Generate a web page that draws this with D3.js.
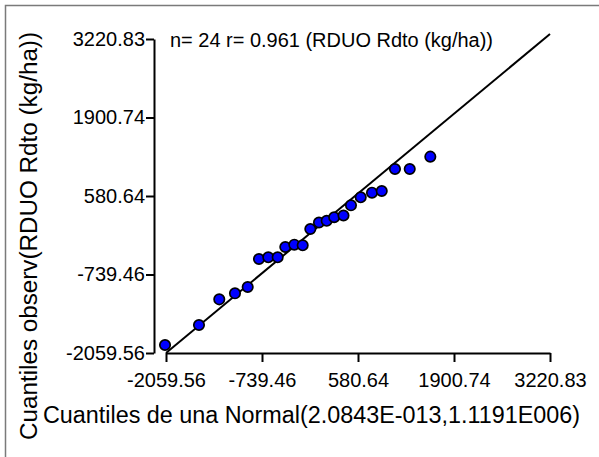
<!DOCTYPE html>
<html>
<head>
<meta charset="utf-8">
<script src="https://cdn.jsdelivr.net/npm/d3@7"></script>
<style>
  html, body { margin: 0; padding: 0; background: #fff; }
  svg { display: block; font-family: "Liberation Sans", Arial, sans-serif; }
</style>
</head>
<body>
<div id="chart"></div>
<script>
const theoQ = [-2073, -1606, -1327, -1111, -936, -781, -653, -524, -419, -295, -180, -75,
  44, 150, 253, 381, 484, 618, 773, 907, 1089, 1292, 1575];
const obsQ = [-1925, -1589, -1157, -1056, -950, -479, -450, -450, -277, -238, -248, 26,
  135, 164, 223, 253, 424, 559, 636, 665, 1035, 1035, 1242];
const ticks = [-2059.56, -739.46, 580.64, 1900.74, 3220.83];
const refLine = [[-2059.56, -2059.56], [3220.83, 3305]];
const title = "n= 24 r= 0.961 (RDUO Rdto (kg/ha))";
const xLabel = "Cuantiles de una Normal(2.0843E-013,1.1191E006)";
const yLabel = "Cuantiles observ(RDUO Rdto (kg/ha))";

const width = 599, height = 457;
const svg = d3.select("#chart").append("svg")
    .attr("width", width)
    .attr("height", height);

svg.append("rect").attr("width", width).attr("height", height).attr("fill", "#fff");

// frame (only top and left edges show in the picture)
svg.append("path")
    .attr("d", `M5.5,${height} V5.5 H${width}`)
    .attr("fill", "none")
    .attr("stroke", "#7a7a7a")
    .attr("stroke-width", 1.5);

const x = d3.scaleLinear().domain([ticks[0], ticks[4]]).range([166, 550]);
const y = d3.scaleLinear().domain([ticks[0], ticks[4]]).range([353, 39]);

// plain hyphen instead of d3's unicode minus
const fmt = d => d.toFixed(2);

// axes
const yAxis = svg.append("g")
    .attr("transform", "translate(154,0)")
    .call(d3.axisLeft(y).tickValues(ticks).tickFormat(fmt)
      .tickSize(8).tickSizeOuter(0).tickPadding(1));

const xAxis = svg.append("g")
    .attr("transform", "translate(0,353)")
    .call(d3.axisBottom(x).tickValues(ticks).tickFormat(fmt)
      .tickSize(9).tickSizeOuter(0).tickPadding(11));

[xAxis, yAxis].forEach(g => {
  g.selectAll("path, line").attr("stroke", "#000").attr("stroke-width", 2);
  g.selectAll("text")
    .attr("fill", "#000")
    .style("font-size", "20px")
    .style("font-family", "'Liberation Sans', Arial, sans-serif");
});

// reference line
svg.append("path")
    .attr("d", d3.line().x(d => x(d[0])).y(d => y(d[1]))(refLine))
    .attr("fill", "none")
    .attr("stroke", "#000")
    .attr("stroke-width", 2);

// points
svg.append("g")
  .selectAll("circle")
  .data(theoQ.map((v, i) => ({ t: v, o: obsQ[i] })))
  .enter()
  .append("circle")
    .attr("cx", d => x(d.t))
    .attr("cy", d => y(d.o))
    .attr("r", 5.2)
    .attr("fill", "#0000ff")
    .attr("stroke", "#000")
    .attr("stroke-width", 1.7);

// texts
svg.append("text")
    .attr("x", 170)
    .attr("y", 47)
    .attr("textLength", 323)
    .attr("lengthAdjust", "spacingAndGlyphs")
    .style("font-size", "20px")
    .text(title);

svg.append("text")
    .attr("x", 43)
    .attr("y", 423)
    .attr("textLength", 537)
    .attr("lengthAdjust", "spacingAndGlyphs")
    .style("font-size", "23px")
    .text(xLabel);

svg.append("text")
    .attr("transform", "translate(37,236) rotate(-90)")
    .attr("text-anchor", "middle")
    .attr("textLength", 408)
    .attr("lengthAdjust", "spacingAndGlyphs")
    .style("font-size", "23px")
    .text(yLabel);
</script>
</body>
</html>
